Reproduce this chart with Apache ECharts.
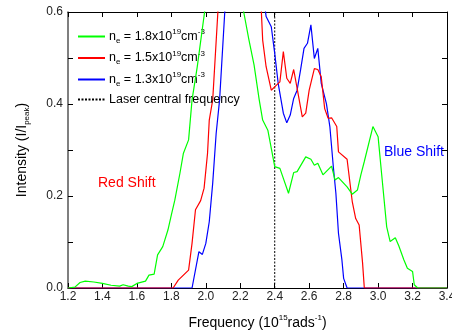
<!DOCTYPE html>
<html>
<head>
<meta charset="utf-8">
<script src="https://cdn.jsdelivr.net/npm/echarts@6/dist/echarts.min.js"></script>
<style>html,body{margin:0;padding:0;background:#fff}#c{width:452px;height:331px}</style>
</head>
<body>
<div id="c"></div>
<script>
// Green: n_e = 1.8e19
const freqG = [1.20,1.24,1.27,1.30,1.35,1.40,1.45,1.50,1.52,1.55,1.57,1.60,1.65,1.67,1.70,1.72,1.75,1.78,1.80,1.82,1.85,1.87,1.90,1.92,1.95,2.00,2.05,2.10,2.15,2.20,2.22,2.25,2.28,2.31,2.33,2.36,2.40,2.43,2.48,2.51,2.53,2.58,2.61,2.63,2.65,2.68,2.73,2.75,2.77,2.82,2.85,2.88,2.90,2.92,2.97,3.00,3.02,3.05,3.07,3.10,3.12,3.15,3.17,3.20,3.21,3.23,3.30,3.40];
const valG  = [0,0.002,0.012,0.015,0.013,0.010,0.006,0.004,0.007,0.004,0.003,0.010,0.015,0.028,0.030,0.072,0.090,0.126,0.159,0.191,0.250,0.293,0.322,0.409,0.480,0.620,0.750,0.800,0.750,0.650,0.600,0.540,0.485,0.409,0.365,0.343,0.264,0.260,0.206,0.251,0.253,0.285,0.280,0.267,0.271,0.246,0.265,0.235,0.240,0.220,0.204,0.213,0.246,0.275,0.351,0.329,0.250,0.133,0.101,0.109,0.092,0.061,0.043,0.036,0.007,0,0,0];
// Red: n_e = 1.5e19
const freqR = [1.20,1.81,1.84,1.90,1.92,1.94,1.97,1.99,2.01,2.02,2.04,2.07,2.12,2.20,2.28,2.32,2.33,2.35,2.38,2.41,2.43,2.45,2.47,2.49,2.51,2.53,2.56,2.58,2.60,2.63,2.65,2.67,2.69,2.71,2.73,2.76,2.77,2.82,2.85,2.87,2.89,2.91,2.92,3.40];
const valR  = [0,0,0.017,0.039,0.097,0.170,0.190,0.217,0.293,0.365,0.409,0.600,0.800,0.850,0.750,0.620,0.539,0.481,0.430,0.441,0.448,0.514,0.456,0.445,0.475,0.434,0.372,0.380,0.430,0.477,0.475,0.459,0.390,0.369,0.370,0.351,0.296,0.280,0.188,0.151,0.137,0.054,0,0];
// Blue: n_e = 1.3e19
const freqB = [1.20,1.92,1.96,1.98,2.00,2.02,2.04,2.06,2.08,2.11,2.16,2.25,2.33,2.35,2.38,2.40,2.42,2.45,2.47,2.49,2.51,2.53,2.55,2.57,2.59,2.61,2.63,2.65,2.67,2.70,2.72,2.74,2.755,2.77,2.79,2.80,2.82,3.40];
const valB  = [0,0,0.079,0.073,0.097,0.144,0.228,0.336,0.409,0.600,0.800,0.800,0.650,0.590,0.568,0.510,0.445,0.380,0.359,0.376,0.412,0.430,0.474,0.521,0.532,0.572,0.499,0.521,0.445,0.401,0.351,0.264,0.206,0.119,0.061,0.021,0,0];
// Laser central frequency
const laserX = [2.4, 2.4];
const laserY = [0, 0.6];

const names = [
  'n{sub|e} = 1.8x10{sup|19}cm{sup|-3}',
  'n{sub|e} = 1.5x10{sup|19}cm{sup|-3}',
  'n{sub|e} = 1.3x10{sup|19}cm{sup|-3}',
  'Laser central frequency'
];
const pairs = (xs, ys) => xs.map((x, i) => [x, ys[i]]);

const FONT = 'Liberation Sans, Arial, sans-serif';
const chart = echarts.init(document.getElementById('c'), null, {renderer: 'canvas'});
const tickStyle = {show: true, inside: true, length: 5, lineStyle: {color: '#000', width: 1}};
const option = {
  animation: false,
  backgroundColor: '#fff',
  grid: {left: 68, right: 5, top: 12, bottom: 43, containLabel: false, outerBoundsMode: 'none'},
  legend: {
    orient: 'vertical', left: 72, top: 23,
    itemWidth: 27, itemHeight: 14, itemGap: 4.5,
    itemStyle: {opacity: 0},
    data: names,
    textStyle: {
      fontFamily: FONT, fontSize: 12.5, color: '#000', lineHeight: 14, padding: [0,0,0,-1],
      rich: {
        sub: {fontFamily: FONT, fontSize: 8, color: '#000', lineHeight: 14, padding: [8,0,0,0]},
        sup: {fontFamily: FONT, fontSize: 8, color: '#000', lineHeight: 14, padding: [0,0,9,0]}
      }
    }
  },
  xAxis: [{
    type: 'value', min: 1.2, max: 3.4, interval: 0.2,
    axisLine: {show: true, onZero: false, lineStyle: {color: '#000', width: 1}},
    axisTick: tickStyle,
    splitLine: {show: false},
    axisLabel: {fontFamily: FONT, fontSize: 12, color: '#222', margin: 3, formatter: v => v.toFixed(1)},
    name: 'Frequency (10{sup|15}rads{sup|-1})', nameLocation: 'middle', nameGap: 27,
    nameTextStyle: {fontFamily: FONT, fontSize: 14, color: '#000', lineHeight: 16,
      rich: {sup: {fontFamily: FONT, fontSize: 8, color: '#000', lineHeight: 16, padding: [0,0,10,0]}}}
  }, {
    type: 'value', position: 'top', min: 1.2, max: 3.4, interval: 0.2,
    axisLine: {show: true, onZero: false, lineStyle: {color: '#000', width: 1}},
    axisTick: tickStyle, axisLabel: {show: false}, splitLine: {show: false}
  }],
  yAxis: [{
    type: 'value', min: 0, max: 0.6, interval: 0.1,
    axisLine: {show: true, onZero: false, lineStyle: {color: '#555', width: 1.5}},
    axisTick: tickStyle,
    splitLine: {show: false},
    axisLabel: {fontFamily: FONT, fontSize: 12, color: '#222', margin: 5,
      formatter: v => (Math.round(v * 10) % 2 === 0 ? v.toFixed(1) : '')},
    name: 'Intensity (I/I{sub|peak})', nameLocation: 'middle', nameGap: 38, nameRotate: 90,
    nameTextStyle: {fontFamily: FONT, fontSize: 14, color: '#000', lineHeight: 16,
      rich: {sub: {fontFamily: FONT, fontSize: 8, color: '#000', lineHeight: 16, padding: [9,0,0,0]}}}
  }, {
    type: 'value', position: 'right', min: 0, max: 0.6, interval: 0.1,
    axisLine: {show: true, onZero: false, lineStyle: {color: '#000', width: 1}},
    axisTick: tickStyle, axisLabel: {show: false}, splitLine: {show: false}
  }],
  series: [
    {name: names[3], type: 'line', data: pairs(laserX, laserY), symbol: 'none', z: 1,
     lineStyle: {color: '#000', width: 1, type: [2, 1.5]}, itemStyle: {color: '#000'}},
    {name: names[2], type: 'line', data: pairs(freqB, valB), symbol: 'none', z: 2,
     lineStyle: {color: '#0000ff', width: 1.2}, itemStyle: {color: '#0000ff'}},
    {name: names[1], type: 'line', data: pairs(freqR, valR), symbol: 'none', z: 3,
     lineStyle: {color: '#ff0000', width: 1.2}, itemStyle: {color: '#ff0000'}},
    {name: names[0], type: 'line', data: pairs(freqG, valG), symbol: 'none', z: 4,
     lineStyle: {color: '#00ff00', width: 1.2}, itemStyle: {color: '#00ff00'}}
  ],
  graphic: [
    {type: 'text', left: 98, top: 176, style: {text: 'Red Shift', fill: '#ff0000', font: '14px ' + FONT}},
    {type: 'text', left: 384, top: 145, style: {text: 'Blue Shift', fill: '#0000ff', font: '14px ' + FONT}}
  ]
};
chart.setOption(option);
</script>
</body>
</html>
